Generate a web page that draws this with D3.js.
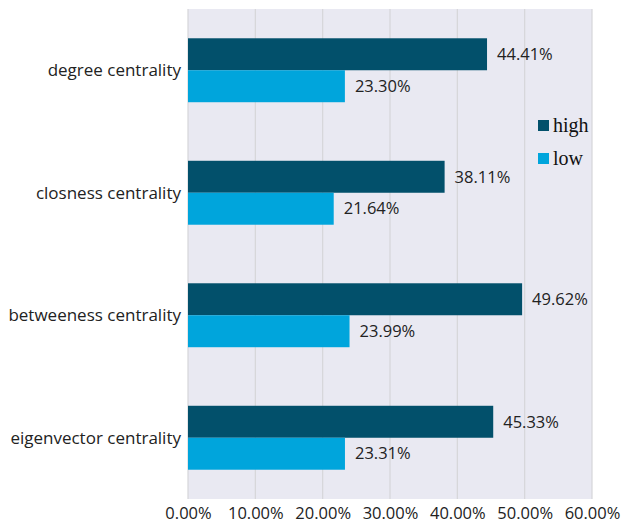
<!DOCTYPE html>
<html>
<head>
<meta charset="utf-8">
<script src="https://cdn.jsdelivr.net/npm/d3@7"></script>
<style>
  body { margin: 0; background: #fff; }
</style>
</head>
<body>
<div id="chart"></div>
<script>
// data
const categories = ["degree centrality", "closness centrality", "betweeness centrality", "eigenvector centrality"]
const seriesNames = ["high", "low"]
const highValues = [44.41, 38.11, 49.62, 45.33]
const lowValues = [23.30, 21.64, 23.99, 23.31]
const xTicks = [0, 10, 20, 30, 40, 50, 60]

const colors = { high: "#02506B", low: "#00A5DC" }

const dataset = categories.map((c, i) => ({ category: c, high: highValues[i], low: lowValues[i] }))

// dimensions
let dimensions = {
    width: 622,
    height: 523,
    margin: { top: 9, right: 30, bottom: 24, left: 188 }
}
dimensions.boundedWidth = 592 - dimensions.margin.left
dimensions.boundedHeight = dimensions.height - dimensions.margin.top - dimensions.margin.bottom

const wrapper = d3.select("#chart")
    .append("svg")
    .attr("width", dimensions.width)
    .attr("height", dimensions.height)

const bounds = wrapper.append("g")
    .attr("transform", `translate(${dimensions.margin.left},${dimensions.margin.top})`)

// scales
const xScale = d3.scaleLinear()
    .domain([0, 60])
    .range([0, dimensions.boundedWidth])

const yScale = d3.scaleBand()
    .domain(categories)
    .range([0, dimensions.boundedHeight])
    .paddingInner(0.478)
    .paddingOuter(0.239)

const subScale = d3.scaleBand()
    .domain(seriesNames)
    .range([0, yScale.bandwidth()])

// background
bounds.append("rect")
    .attr("width", dimensions.boundedWidth)
    .attr("height", dimensions.boundedHeight)
    .attr("fill", "#E9E9F2")

// gridlines
bounds.selectAll(".grid")
    .data(xTicks)
    .join("line")
    .attr("x1", d => xScale(d))
    .attr("x2", d => xScale(d))
    .attr("y1", 0)
    .attr("y2", dimensions.boundedHeight)
    .attr("stroke", "#D6D6D9")
    .attr("stroke-width", 1.2)

// bars
const groups = bounds.selectAll(".group")
    .data(dataset)
    .join("g")
    .attr("transform", d => `translate(0,${yScale(d.category)})`)

seriesNames.forEach(s => {
    groups.append("rect")
        .attr("x", 0)
        .attr("y", subScale(s))
        .attr("width", d => xScale(d[s]))
        .attr("height", subScale.bandwidth())
        .attr("fill", colors[s])

    groups.append("text")
        .attr("x", d => xScale(d[s]) + 10)
        .attr("y", subScale(s) + subScale.bandwidth() / 2)
        .attr("dy", "0.35em")
        .attr("font-family", "'Open Sans', sans-serif")
        .attr("font-size", 16.5)
        .attr("fill", "#222")
        .text(d => d[s].toFixed(2) + "%")
})

// category labels
bounds.selectAll(".cat")
    .data(categories)
    .join("text")
    .attr("x", -7)
    .attr("y", d => yScale(d) + yScale.bandwidth() / 2)
    .attr("dy", "0.35em")
    .attr("text-anchor", "end")
    .attr("font-family", "'Open Sans', sans-serif")
    .attr("font-size", 17)
    .attr("fill", "#222")
    .text(d => d)

// x axis
const xAxisGenerator = d3.axisBottom(xScale)
    .tickValues(xTicks)
    .tickSize(0)
    .tickPadding(8)
    .tickFormat(d => d.toFixed(2) + "%")

const xAxis = bounds.append("g")
    .attr("transform", `translate(0,${dimensions.boundedHeight})`)
    .call(xAxisGenerator)
xAxis.select(".domain").remove()
xAxis.selectAll("text")
    .attr("font-family", "'Open Sans', sans-serif")
    .attr("font-size", 16.5)
    .attr("fill", "#222")

// legend
const legendGroup = wrapper.append("g")
    .attr("transform", "translate(538,120)")

legendGroup.selectAll("rect")
    .data(seriesNames)
    .join("rect")
    .attr("x", 0)
    .attr("y", (d, i) => i * 33)
    .attr("width", 11)
    .attr("height", 11)
    .attr("fill", d => colors[d])

legendGroup.selectAll("text")
    .data(seriesNames)
    .join("text")
    .attr("x", 15)
    .attr("y", (d, i) => i * 33 + 12)
    .attr("font-family", "'Liberation Serif', serif")
    .attr("font-size", 20)
    .attr("fill", "#111")
    .text(d => d)
</script>
</body>
</html>
